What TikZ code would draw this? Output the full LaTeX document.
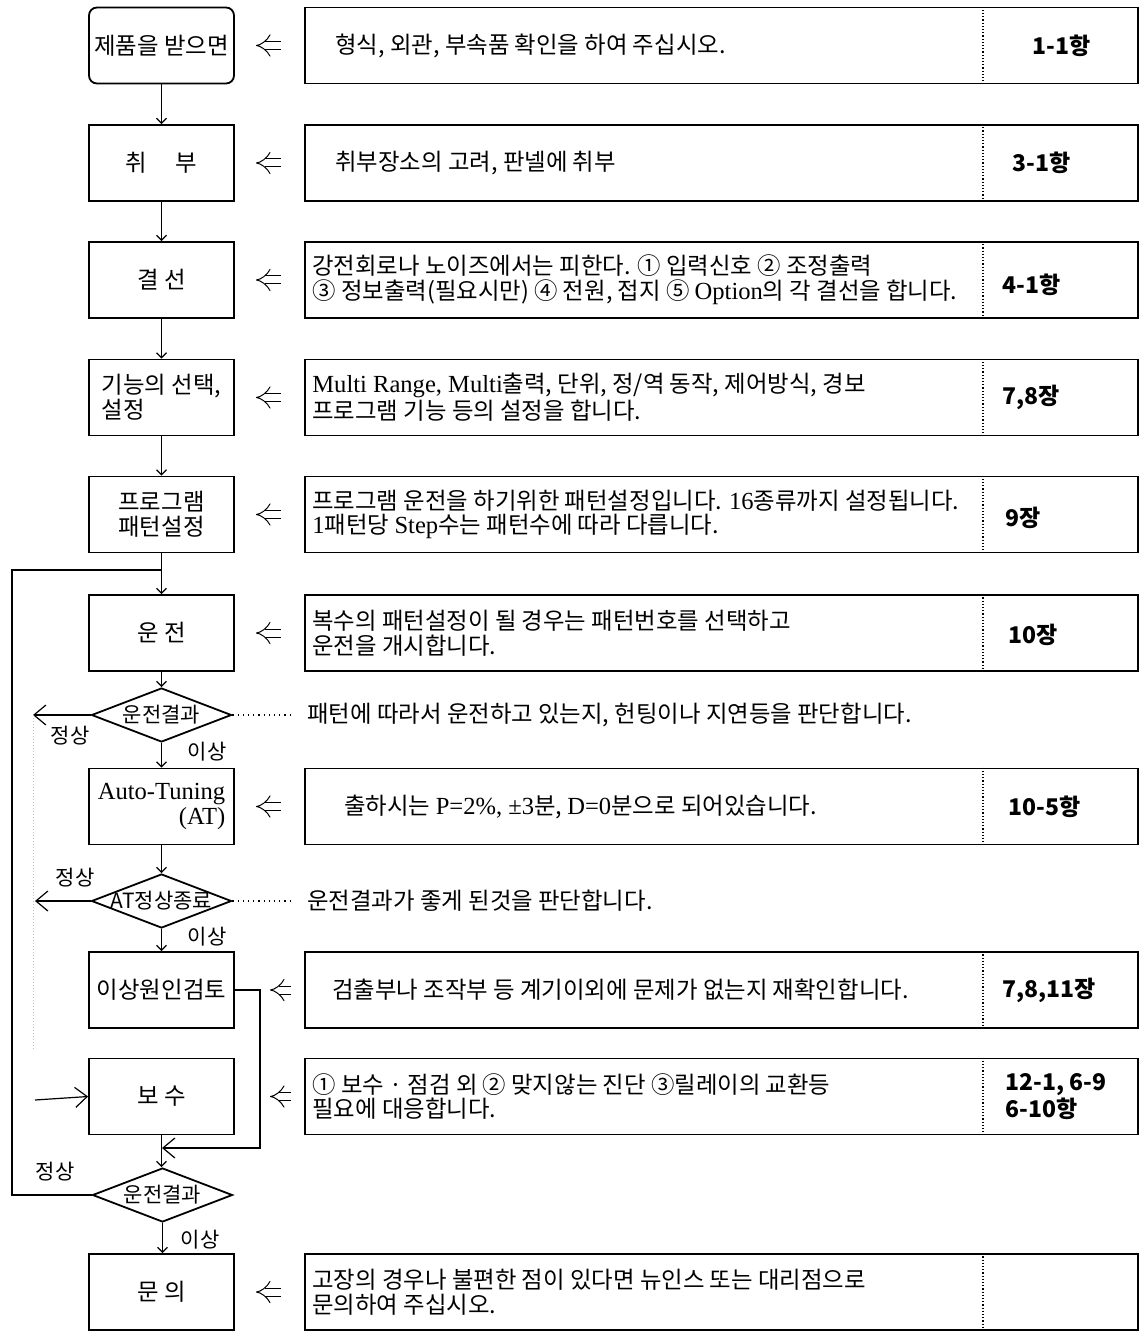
\documentclass[tikz,border=0pt]{standalone}
\usepackage{fontspec}
\setmainfont{Noto Sans CJK KR}
\newfontfamily\tms[Scale=1.05]{Liberation Serif}
\usetikzlibrary{shapes.geometric,arrows.meta}
\begin{document}
\begin{tikzpicture}[x=0.5pt,y=-0.5pt,
  every node/.style={font=\fontsize{11.7}{12.3}\selectfont, inner sep=1pt},
  lbox/.style={draw, line width=0.9pt, minimum width=72.5pt, minimum height=38pt, align=center},
  rbox/.style={draw, line width=0.9pt, minimum width=416.5pt, minimum height=38pt},
  rtext/.style={anchor=west, align=left},
  ref/.style={anchor=west, align=left, font=\fontsize{11.5}{12.3}\selectfont\bfseries},
  dia/.style={draw, diamond, line width=0.9pt, minimum width=70pt, minimum height=27pt, inner sep=0pt},
  flow/.style={line width=0.6pt, -{Straight Barb[length=2.5pt,width=5pt]}},
  back/.style={line width=0.6pt, -{Straight Barb[length=6pt,width=10pt]}},
  plain/.style={line width=0.6pt},
  impl/.style={double, double distance=3.5pt, line width=0.5pt, -{Implies[scale=1.3]}, shorten <=11.5pt, shorten >=10.5pt},
  implb/.style={double, double distance=3.5pt, line width=0.5pt, -{Implies[scale=1.3]}, shorten <=6.5pt, shorten >=17.5pt},
  note/.style={dotted, line width=0.6pt},
  divider/.style={densely dotted, line width=0.6pt},
  lab/.style={font=\fontsize{10.5}{12}\selectfont}
]
\useasboundingbox (0,0) rectangle (1140,1331);
\coordinate (dv) at (983,0);

% left column
\node[lbox, rounded corners=4pt] (l1) at (161.5,45.5) {제품을 받으면};
\node[lbox] (l2) at (161.5,163) {취\hspace{1.2em}부};
\node[lbox] (l3) at (161.5,280) {결 선};
\node[lbox, align=left] (l4) at (161.5,397.5) {기능의 선택,\\설정};
\node[lbox] (l5) at (161.5,514.5) {프로그램\\패턴설정};
\node[lbox] (l6) at (161.5,633) {운 전};
\node[dia, label={[lab]center:운전결과}] (d1) at (161.5,715) {};
\node[lbox, align=right, font=\fontsize{11.7}{12.3}\selectfont\tms] (l7) at (161.5,806.5) {Auto-Tuning\\(AT)};
\node[dia, label={[lab]center:AT정상종료}] (d2) at (161.5,901) {};
\node[lbox] (l8) at (161.5,990) {이상원인검토};
\node[lbox] (l9) at (161.5,1096.5) {보 수};
\node[dia, label={[lab]center:운전결과}] (d3) at (162.5,1195) {};
\node[lbox] (l10) at (161.5,1292) {문 의};

% right column boxes
\node[rbox] (r1) at (721.5,45.5) {};
\node[rbox] (r2) at (721.5,163) {};
\node[rbox] (r3) at (721.5,280) {};
\node[rbox] (r4) at (721.5,397.5) {};
\node[rbox] (r5) at (721.5,514.5) {};
\node[rbox] (r6) at (721.5,633) {};
\node[rbox] (r7) at (721.5,806.5) {};
\node[rbox] (r8) at (721.5,990) {};
\node[rbox] (r9) at (721.5,1096.5) {};
\node[rbox] (r10) at (721.5,1292) {};
\foreach \r in {r1,r2,r3,r4,r5,r6,r7,r8,r9,r10}
  \draw[divider] (dv |- \r.north) -- (dv |- \r.south);

% right texts
\node[rtext] (t1) at (333,45.5) {형식, 외관, 부속품 확인을 하여 주십시오.};
\node[rtext] (t2) at (333,163) {취부장소의 고려, 판넬에 취부};
\node[rtext] (t3) at (310,280) {강전회로나 노이즈에서는 피한다. ① 입력신호 ② 조정출력\\③ 정보출력(필요시만) ④ 전원, 접지 ⑤ {\tms Option}의 각 결선을 합니다.};
\node[rtext] (t4) at (310,397.5) {{\tms Multi Range, Multi}출력, 단위, 정/역 동작, 제어방식, 경보\\프로그램 기능 등의 설정을 합니다.};
\node[rtext] (t5) at (310,514.5) {프로그램 운전을 하기위한 패턴설정입니다. {\tms 16}종류까지 설정됩니다.\\{\tms 1}패턴당 {\tms Step}수는 패턴수에 따라 다릅니다.};
\node[rtext] (t6) at (310,633) {복수의 패턴설정이 될 경우는 패턴번호를 선택하고\\운전을 개시합니다.};
\node[rtext] (t7) at (342,806.5) {출하시는 {\tms P=2\%, ±3}분, {\tms D=0}분으로 되어있습니다.};
\node[rtext] (t8) at (330,990) {검출부나 조작부 등 계기이외에 문제가 없는지 재확인합니다.};
\node[rtext] (t9) at (310,1096.5) {① 보수 · 점검 외 ② 맞지않는 진단 ③릴레이의 교환등\\필요에 대응합니다.};
\node[rtext] (t10) at (310,1292) {고장의 경우나 불편한 점이 있다면 뉴인스 또는 대리점으로\\문의하여 주십시오.};

% references
\node[ref] (f1) at (1030,45.5) {1-1항};
\node[ref] (f2) at (1010,163) {3-1항};
\node[ref] (f3) at (1000,285) {4-1항};
\node[ref] (f4) at (1000,397.5) {7,8장};
\node[ref] (f5) at (1003,518) {9장};
\node[ref] (f6) at (1006,635) {10장};
\node[ref] (f7) at (1006,806.5) {10-5항};
\node[ref] (f8) at (1000,990) {7,8,11장};
\node[ref] (f9) at (1003,1096.5) {12-1, 6-9\\6-10항};

% input arrows
\foreach \a/\b in {r1/l1,r2/l2,r3/l3,r4/l4,r5/l5,r6/l6,r7/l7,r10/l10}
  \draw[impl] (\a.west) -- (\b.east);
\draw[implb] (r8.west) -- (l8.east);
\draw[implb] (r9.west) -- (l9.east);

% main flow
\draw[flow] (l1) -- (l2);
\draw[flow] (l2) -- (l3);
\draw[flow] (l3) -- (l4);
\draw[flow] (l4) -- (l5);
\draw[flow] (l5) -- (l6);
\draw[flow] (l6) -- (d1);
\draw[flow] (d1) -- (l7);
\draw[flow] (l7) -- (d2);
\draw[flow] (d2) -- (l8);
\draw[flow] (l9.south) -- (l9.south |- d3.north);
\draw[flow] (d3.south) -- (d3.south |- l10.north);

% loop back
\coordinate (j1) at (161.5,570);
\coordinate (lft1) at (12,570);
\coordinate (lft2) at (12,1195);
\draw[plain] (d3.west) -- (lft2) -- (lft1) -- (j1);

% normal exits
\coordinate (n1) at (33,715);
\coordinate (n2) at (35,901);
\coordinate (n3) at (33,1050);
\coordinate (n4) at (35,1100);
\draw[back] (d1.west) -- (n1);
\draw[back] (d2.west) -- (n2);
\draw[densely dotted, gray!50, line width=0.5pt] (n1) -- (n3);
\draw[back] (n4) -- (l9.west);

% cause check path
\coordinate (c1) at (260,990);
\coordinate (c2) at (260,1148);
\coordinate (c3) at (162,1148);
\draw[back] (l8.east) -- (c1) -- (c2) -- (c3);

% notes for diamonds
\coordinate (e1) at (292,715);
\coordinate (e2) at (292,901);
\draw[note] (d1.east) -- (e1);
\draw[note] (d2.east) -- (e2);
\node[rtext] (m1) at (305,715) {패턴에 따라서 운전하고 있는지, 헌팅이나 지연등을 판단합니다.};
\node[rtext] (m2) at (305,901) {운전결과가 좋게 된것을 판단합니다.};

% branch labels
\node[lab] (s1) at (70,736) {정상};
\node[lab] (s2) at (75,878) {정상};
\node[lab] (s3) at (55,1172) {정상};
\node[lab] (b1) at (207,752) {이상};
\node[lab] (b2) at (207,937) {이상};
\node[lab] (b3) at (200,1240) {이상};
\end{tikzpicture}
\end{document}
